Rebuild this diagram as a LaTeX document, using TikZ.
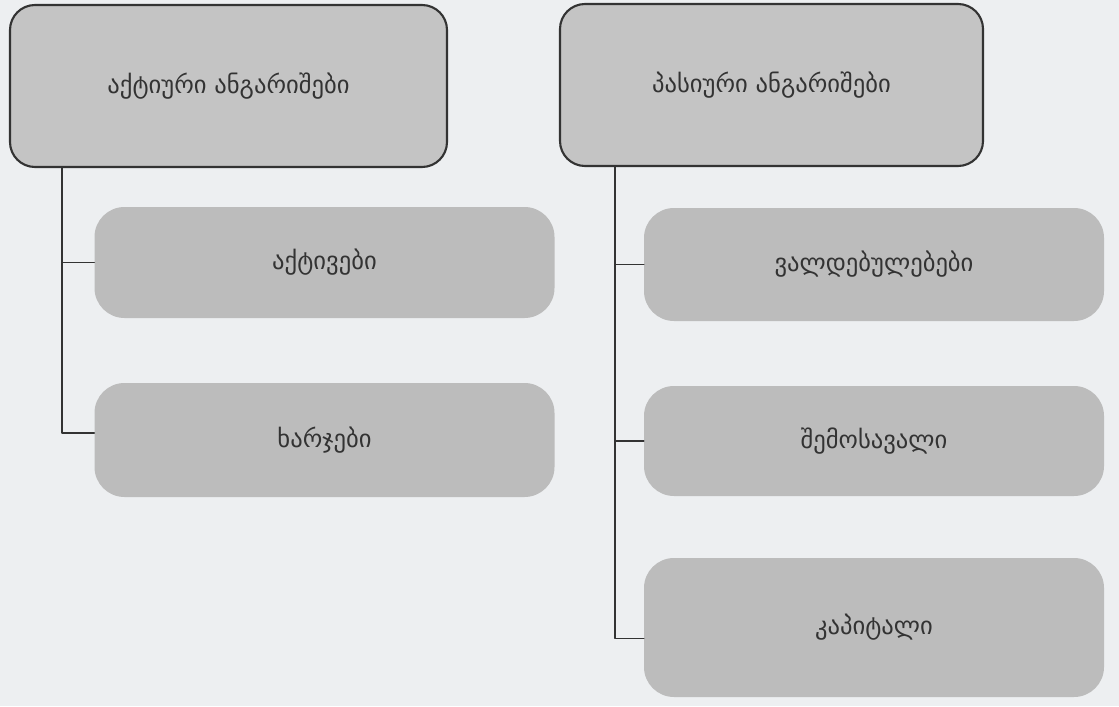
\documentclass[tikz,border=0pt]{standalone}
\usepackage{fontspec}
\newfontfamily\geofont{DejaVu Sans}
\definecolor{pagebg}{HTML}{EDEFF1}
\definecolor{headfill}{HTML}{C4C4C4}
\definecolor{itemfill}{HTML}{BCBCBC}
\definecolor{inkgray}{HTML}{333333}
\tikzset{
  headbox/.style={draw=inkgray,line width=1.2pt,fill=headfill,rounded corners=0.5cm,
    minimum height=3.24cm,inner sep=0pt},
  itembox/.style={fill=itemfill,rounded corners=0.6cm,minimum width=9.2cm,inner sep=0pt},
  trunk/.style={draw=inkgray,line width=1.1pt}
}
\begin{document}
\begin{tikzpicture}[x=1cm,y=1cm,line cap=round,line join=round,
  font=\geofont\fontsize{14}{17}\selectfont,text=inkgray]
  \fill[pagebg] (0,0) rectangle (22.38,-14.12);
  \useasboundingbox (0,0) rectangle (22.38,-14.12);
  % headers
  \node[headbox,minimum width=8.74cm] (akt) at (4.57,-1.72) {აქტიური ანგარიშები};
  \node[headbox,minimum width=8.46cm] (pas) at (15.43,-1.70) {პასიური ანგარიშები};
  % left column
  \node[itembox,minimum height=2.22cm] (akv) at (6.49,-5.25) {აქტივები};
  \node[itembox,minimum height=2.28cm] (xar) at (6.49,-8.80) {ხარჯები};
  % right column
  \node[itembox,minimum height=2.26cm] (val) at (17.48,-5.29) {ვალდებულებები};
  \node[itembox,minimum height=2.20cm] (shem) at (17.48,-8.82) {შემოსავალი};
  \node[itembox,minimum height=2.78cm] (kap) at (17.48,-12.55) {კაპიტალი};
  \coordinate (lt) at (1.24,-3.34);
  \coordinate (rt) at (12.30,-3.32);
  \draw[trunk] (lt) |- ([yshift=0.14cm]xar.west);
  \draw[trunk] (lt |- akv.west) -- (akv.west);
  \draw[trunk] (rt) |- ([yshift=-0.22cm]kap.west);
  \draw[trunk] (rt |- val.west) -- (val.west);
  \draw[trunk] (rt |- shem.west) -- (shem.west);
\end{tikzpicture}
\end{document}
